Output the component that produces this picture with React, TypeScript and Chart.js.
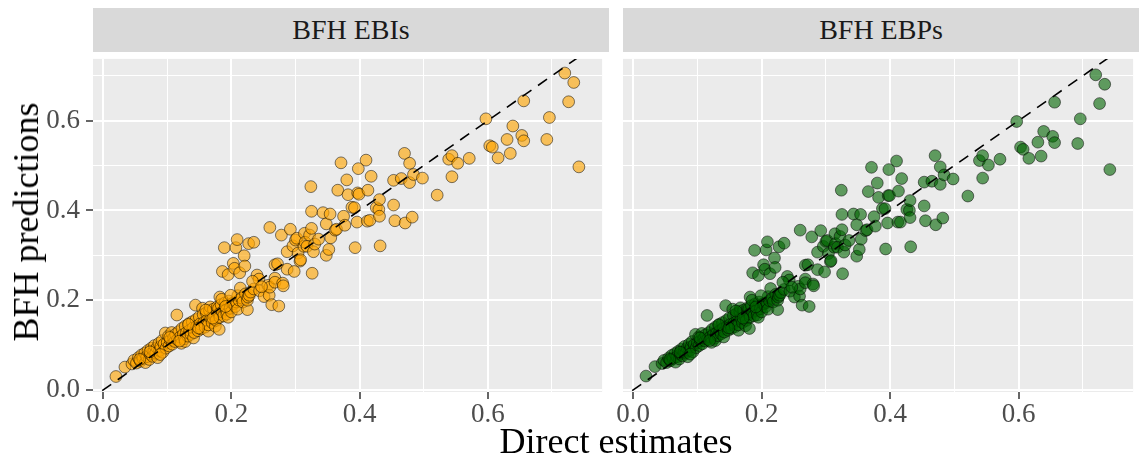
import React, { useEffect, useRef } from "react";
import { Chart, registerables } from "chart.js";

Chart.register(...registerables);

// Direct estimates per area (shared x values of both panels)
const directEstimates = [
  0.020, 0.034, 0.045, 0.048, 0.052, 0.055, 0.058, 0.060, 0.062, 0.065,
  0.066, 0.068, 0.070, 0.072, 0.074, 0.075, 0.077, 0.079, 0.080, 0.082,
  0.084, 0.085, 0.087, 0.088, 0.090, 0.092, 0.093, 0.095, 0.097, 0.098,
  0.100, 0.102, 0.103, 0.105, 0.107, 0.108, 0.110, 0.112, 0.113, 0.115,
  0.116, 0.118, 0.120, 0.122, 0.123, 0.125, 0.127, 0.128, 0.128, 0.130,
  0.132, 0.134, 0.135, 0.137, 0.139, 0.140, 0.141, 0.142, 0.144, 0.145,
  0.146, 0.148, 0.150, 0.151, 0.153, 0.155, 0.156, 0.157, 0.159, 0.161,
  0.162, 0.164, 0.164, 0.166, 0.167, 0.168, 0.170, 0.172, 0.174, 0.175,
  0.176, 0.178, 0.180, 0.181, 0.181, 0.182, 0.182, 0.184, 0.186, 0.186,
  0.188, 0.189, 0.190, 0.192, 0.193, 0.195, 0.195, 0.196, 0.198, 0.200,
  0.202, 0.203, 0.204, 0.205, 0.206, 0.207, 0.208, 0.209, 0.210, 0.210,
  0.212, 0.213, 0.214, 0.216, 0.218, 0.220, 0.221, 0.222, 0.225, 0.225,
  0.226, 0.227, 0.228, 0.230, 0.235, 0.235, 0.240, 0.243, 0.244, 0.251,
  0.257, 0.259, 0.260, 0.260, 0.263, 0.268, 0.268, 0.268, 0.272, 0.274,
  0.278, 0.280, 0.281, 0.287, 0.287, 0.292, 0.296, 0.298, 0.300, 0.302,
  0.304, 0.307, 0.308, 0.313, 0.314, 0.315, 0.318, 0.322, 0.324, 0.325,
  0.325, 0.326, 0.328, 0.330, 0.336, 0.343, 0.348, 0.348, 0.352, 0.354,
  0.355, 0.362, 0.364, 0.366, 0.371, 0.375, 0.377, 0.380, 0.382, 0.388,
  0.392, 0.393, 0.396, 0.397, 0.399, 0.398, 0.410, 0.412, 0.413, 0.416,
  0.418, 0.426, 0.430, 0.431, 0.431, 0.432, 0.453, 0.453, 0.455, 0.465,
  0.470, 0.471, 0.478, 0.478, 0.482, 0.484, 0.498, 0.521, 0.539, 0.544,
  0.544, 0.553, 0.571, 0.597, 0.603, 0.607, 0.616, 0.630, 0.635, 0.639,
  0.653, 0.656, 0.656, 0.692, 0.696, 0.720, 0.726, 0.734, 0.742,
  0.057, 0.073, 0.089, 0.104, 0.119, 0.133, 0.149, 0.160, 0.171, 0.185,
  0.191, 0.199, 0.233, 0.247,
];

// BFH empirical best indicators
const bfhEbi = [
  0.030, 0.051, 0.058, 0.066, 0.060, 0.072, 0.064, 0.078, 0.070, 0.082,
  0.061, 0.074, 0.088, 0.068, 0.080, 0.093, 0.075, 0.086, 0.099, 0.082,
  0.094, 0.072, 0.104, 0.088, 0.097, 0.110, 0.084, 0.102, 0.127, 0.093,
  0.106, 0.120, 0.098, 0.111, 0.128, 0.102, 0.116, 0.108, 0.124, 0.167,
  0.112, 0.130, 0.118, 0.104, 0.137, 0.124, 0.114, 0.142, 0.108, 0.128,
  0.120, 0.148, 0.133, 0.124, 0.152, 0.138, 0.116, 0.128, 0.189, 0.157,
  0.142, 0.132, 0.163, 0.147, 0.136, 0.182, 0.168, 0.150, 0.140, 0.172,
  0.155, 0.131, 0.145, 0.177, 0.185, 0.160, 0.150, 0.180, 0.164, 0.142,
  0.155, 0.185, 0.182, 0.135, 0.170, 0.207, 0.162, 0.190, 0.174, 0.264,
  0.165, 0.317, 0.194, 0.178, 0.169, 0.257, 0.162, 0.198, 0.182, 0.174,
  0.193, 0.282, 0.192, 0.271, 0.186, 0.317, 0.196, 0.335, 0.180, 0.210,
  0.200, 0.261, 0.227, 0.205, 0.196, 0.299, 0.276, 0.214, 0.179, 0.200,
  0.207, 0.326, 0.211, 0.218, 0.329, 0.225, 0.256, 0.247, 0.221, 0.208,
  0.233, 0.211, 0.362, 0.229, 0.190, 0.279, 0.249, 0.240, 0.281, 0.187,
  0.345, 0.238, 0.232, 0.308, 0.269, 0.358, 0.321, 0.264, 0.334, 0.338,
  0.305, 0.287, 0.290, 0.320, 0.349, 0.329, 0.320, 0.345, 0.453, 0.398,
  0.360, 0.260, 0.308, 0.325, 0.336, 0.395, 0.370, 0.300, 0.313, 0.392,
  0.339, 0.356, 0.358, 0.445, 0.506, 0.387, 0.367, 0.468, 0.435, 0.407,
  0.406, 0.317, 0.374, 0.439, 0.436, 0.493, 0.512, 0.376, 0.445, 0.378,
  0.476, 0.406, 0.402, 0.424, 0.387, 0.321, 0.467, 0.412, 0.377, 0.471,
  0.527, 0.372, 0.505, 0.462, 0.385, 0.480, 0.472, 0.434, 0.514, 0.522,
  0.475, 0.505, 0.516, 0.604, 0.544, 0.541, 0.517, 0.558, 0.527, 0.588,
  0.567, 0.555, 0.644, 0.558, 0.607, 0.706, 0.642, 0.685, 0.497,
  0.068, 0.085, 0.079, 0.117, 0.109, 0.146, 0.138, 0.178, 0.160, 0.202,
  0.186, 0.211, 0.242, 0.230,
];

// BFH empirical best predictors
const bfhEbp = [
  0.031, 0.052, 0.059, 0.066, 0.061, 0.071, 0.065, 0.077, 0.070, 0.081,
  0.062, 0.074, 0.086, 0.069, 0.080, 0.091, 0.076, 0.085, 0.097, 0.082,
  0.093, 0.074, 0.102, 0.088, 0.096, 0.108, 0.085, 0.101, 0.124, 0.094,
  0.105, 0.118, 0.099, 0.110, 0.126, 0.103, 0.115, 0.109, 0.123, 0.166,
  0.113, 0.128, 0.118, 0.106, 0.135, 0.124, 0.115, 0.140, 0.110, 0.127,
  0.121, 0.146, 0.132, 0.125, 0.150, 0.137, 0.118, 0.129, 0.188, 0.155,
  0.141, 0.133, 0.161, 0.146, 0.137, 0.180, 0.166, 0.149, 0.141, 0.170,
  0.154, 0.133, 0.145, 0.175, 0.183, 0.159, 0.150, 0.178, 0.163, 0.143,
  0.155, 0.183, 0.181, 0.137, 0.169, 0.207, 0.162, 0.188, 0.173, 0.261,
  0.165, 0.311, 0.192, 0.177, 0.167, 0.255, 0.162, 0.196, 0.181, 0.174,
  0.192, 0.279, 0.192, 0.269, 0.185, 0.312, 0.195, 0.330, 0.180, 0.208,
  0.199, 0.259, 0.226, 0.204, 0.196, 0.294, 0.273, 0.213, 0.179, 0.200,
  0.207, 0.319, 0.211, 0.217, 0.327, 0.224, 0.253, 0.245, 0.220, 0.207,
  0.231, 0.209, 0.356, 0.225, 0.189, 0.278, 0.247, 0.239, 0.279, 0.186,
  0.341, 0.236, 0.232, 0.307, 0.268, 0.355, 0.320, 0.263, 0.331, 0.333,
  0.304, 0.286, 0.288, 0.318, 0.348, 0.326, 0.318, 0.342, 0.445, 0.391,
  0.357, 0.259, 0.307, 0.323, 0.333, 0.392, 0.368, 0.298, 0.313, 0.391,
  0.336, 0.355, 0.357, 0.442, 0.496, 0.386, 0.365, 0.461, 0.429, 0.404,
  0.404, 0.314, 0.372, 0.433, 0.433, 0.491, 0.510, 0.374, 0.443, 0.374,
  0.471, 0.402, 0.400, 0.422, 0.384, 0.319, 0.463, 0.410, 0.377, 0.465,
  0.522, 0.368, 0.497, 0.458, 0.383, 0.479, 0.470, 0.432, 0.511, 0.522,
  0.472, 0.501, 0.514, 0.598, 0.541, 0.536, 0.516, 0.552, 0.521, 0.576,
  0.565, 0.551, 0.641, 0.549, 0.604, 0.702, 0.638, 0.681, 0.491,
  0.068, 0.084, 0.080, 0.116, 0.110, 0.145, 0.138, 0.176, 0.160, 0.200,
  0.185, 0.210, 0.240, 0.229,
];

const panelTitles = ["BFH EBIs", "BFH EBPs"];
const xAxisTitle = "Direct estimates";
const yAxisTitle = "BFH predictions";

const gridValues = [0, 0.1, 0.2, 0.3, 0.4, 0.5, 0.6, 0.7];
const majorTicks = [0, 0.2, 0.4, 0.6];
const identityLine = [-0.05, 0.8];
const xLimits = [-0.0158, 0.7782];
const yLimits = [-0.0045, 0.7375];

const FONT = "'Liberation Serif', 'Times New Roman', serif";

const isMajor = (v: number) => majorTicks.some((m) => Math.abs(m - v) < 1e-9);
const useGridTicks = (scale: any) => {
  scale.ticks = gridValues.map((v) => ({ value: v }));
};

const panelBackground = {
  id: "panelBackground",
  beforeDraw(chart: any) {
    const { ctx, chartArea: a } = chart;
    ctx.save();
    ctx.fillStyle = "#EBEBEB";
    ctx.fillRect(a.left, a.top, a.right - a.left, a.bottom - a.top);
    ctx.restore();
  },
};

type PanelProps = {
  values: number[];
  fill: string;
  left: number;
  width: number;
  yAxisWidth: number;
  padRight: number;
  showYLabels: boolean;
};

function Panel({ values, fill, left, width, yAxisWidth, padRight, showYLabels }: PanelProps) {
  const ref = useRef<HTMLCanvasElement | null>(null);
  const height = 378;

  useEffect(() => {
    if (!ref.current) return;
    const chart = new Chart(ref.current, {
      type: "scatter",
      data: {
        datasets: [
          {
            type: "scatter",
            data: directEstimates.map((x, i) => ({ x, y: values[i] })),
            backgroundColor: fill,
            borderColor: "rgba(0,0,0,0.5)",
            borderWidth: 1,
            pointRadius: 5.9,
            order: 1,
          } as any,
          {
            type: "line",
            data: identityLine.map((v) => ({ x: v, y: v })),
            borderColor: "#000000",
            borderWidth: 1.6,
            borderDash: [11, 8],
            pointRadius: 0,
            fill: false,
            order: 0,
          } as any,
        ],
      },
      options: {
        animation: false,
        responsive: false,
        maintainAspectRatio: false,
        events: [],
        layout: { padding: { left: 0, right: padRight, top: 0, bottom: 0 } },
        plugins: { legend: { display: false }, tooltip: { enabled: false } },
        scales: {
          x: {
            type: "linear",
            min: xLimits[0],
            max: xLimits[1],
            afterBuildTicks: useGridTicks,
            afterFit: (s: any) => {
              s.height = 38;
              s.paddingLeft = 0;
              s.paddingRight = 0;
            },
            border: { display: false },
            grid: {
              color: "#FFFFFF",
              lineWidth: (c: any) => (isMajor(c.tick.value) ? 2 : 1),
              drawTicks: true,
              tickLength: 7,
              tickWidth: 1.5,
              tickColor: (c: any) => (isMajor(c.tick.value) ? "#333333" : "rgba(0,0,0,0)"),
            },
            ticks: {
              autoSkip: false,
              maxRotation: 0,
              padding: 0,
              color: "#4D4D4D",
              font: { family: FONT, size: 27 },
              callback: (v: any) => (isMajor(Number(v)) ? Number(v).toFixed(1) : ""),
            },
          },
          y: {
            type: "linear",
            min: yLimits[0],
            max: yLimits[1],
            afterBuildTicks: useGridTicks,
            afterFit: (s: any) => {
              s.width = yAxisWidth;
              s.paddingTop = 0;
              s.paddingBottom = 0;
            },
            border: { display: false },
            grid: {
              color: "#FFFFFF",
              lineWidth: (c: any) => (isMajor(c.tick.value) ? 2 : 1),
              drawTicks: showYLabels,
              tickLength: 7,
              tickWidth: 1.5,
              tickColor: (c: any) => (isMajor(c.tick.value) ? "#333333" : "rgba(0,0,0,0)"),
            },
            ticks: {
              display: showYLabels,
              autoSkip: false,
              padding: 6,
              color: "#4D4D4D",
              font: { family: FONT, size: 27 },
              callback: (v: any) => (isMajor(Number(v)) ? Number(v).toFixed(1) : ""),
            },
          },
        },
      },
      plugins: [panelBackground],
    } as any);
    return () => chart.destroy();
  }, [values, fill, yAxisWidth, padRight, showYLabels]);

  return (
    <canvas
      ref={ref}
      width={width}
      height={height}
      style={{ position: "absolute", left, top: 52, width, height }}
    />
  );
}

const stripStyle = (left: number): React.CSSProperties => ({
  position: "absolute",
  left,
  top: 8,
  width: 516,
  height: 44,
  background: "#D9D9D9",
  color: "#1A1A1A",
  fontFamily: FONT,
  fontSize: 28,
  display: "flex",
  alignItems: "center",
  justifyContent: "center",
});

export default function App() {
  return (
    <div
      style={{
        position: "absolute",
        left: 0,
        top: 0,
        width: 1140,
        height: 461,
        background: "#FFFFFF",
        overflow: "hidden",
      }}
    >
      <Panel values={bfhEbi} fill="rgba(255,165,0,0.62)" left={0} width={609} yAxisWidth={93} padRight={0} showYLabels={true} />
      <Panel values={bfhEbp} fill="rgba(0,100,0,0.6)" left={610} width={530} yAxisWidth={13} padRight={1} showYLabels={false} />
      <div style={stripStyle(93)}>{panelTitles[0]}</div>
      <div style={stripStyle(623)}>{panelTitles[1]}</div>
      <div
        style={{
          position: "absolute",
          left: 616,
          top: 420,
          transform: "translateX(-50%)",
          whiteSpace: "nowrap",
          fontFamily: FONT,
          fontSize: 36,
          color: "#000000",
        }}
      >
        {xAxisTitle}
      </div>
      <div
        style={{
          position: "absolute",
          left: 26,
          top: 222,
          transform: "translate(-50%, -50%) rotate(-90deg)",
          whiteSpace: "nowrap",
          fontFamily: FONT,
          fontSize: 36,
          color: "#000000",
        }}
      >
        {yAxisTitle}
      </div>
    </div>
  );
}
